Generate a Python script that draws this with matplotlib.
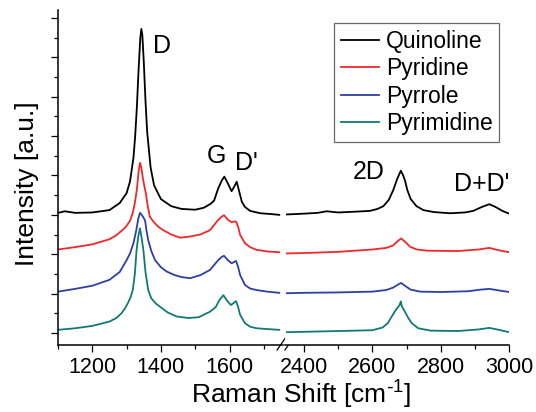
import matplotlib
matplotlib.use("Agg")
import matplotlib.pyplot as plt
from matplotlib.ticker import MultipleLocator

plt.rcParams['font.family'] = ['Liberation Sans', 'DejaVu Sans']
plt.rcParams['mathtext.default'] = 'regular'

names = ["Quinoline", "Pyridine", "Pyrrole", "Pyrimidine"]
colors = ["black", "#f0282a", "#2e3fa6", "#117a72"]

# low-wavenumber region (D, G, D')
quin_x1 = [1100, 1120, 1150, 1200, 1250, 1280, 1300, 1310, 1320, 1325, 1330, 1335, 1340, 1343,
           1346, 1350, 1355, 1360, 1370, 1380, 1400, 1430, 1460, 1500, 1525, 1545, 1555, 1567,
           1578, 1585, 1595, 1606, 1614, 1621, 1628, 1636, 1645, 1660, 1690, 1720, 1745]
quin_y1 = [3.05, 3.09, 3.05, 3.06, 3.12, 3.30, 3.55, 3.85, 4.45, 5.00, 5.75, 6.70, 7.50, 7.72,
           7.55, 6.90, 5.90, 5.10, 4.20, 3.75, 3.40, 3.22, 3.15, 3.13, 3.18, 3.28, 3.36, 3.67,
           3.88, 3.97, 3.80, 3.60, 3.72, 3.84, 3.60, 3.33, 3.20, 3.10, 3.04, 3.02, 3.00]

pyri_x1 = [1100, 1150, 1200, 1250, 1270, 1290, 1300, 1310, 1318, 1324, 1330, 1335, 1339, 1343,
           1347, 1352, 1356, 1362, 1368, 1378, 1392, 1407, 1430, 1456, 1485, 1515, 1543, 1567,
           1577, 1584, 1595, 1606, 1613, 1619, 1625, 1631, 1645, 1660, 1679, 1710, 1745]
pyri_y1 = [2.12, 2.18, 2.25, 2.38, 2.48, 2.63, 2.72, 2.85, 3.05, 3.30, 3.65, 4.10, 4.32, 4.20,
           3.95, 3.72, 3.55, 3.20, 2.95, 2.83, 2.70, 2.61, 2.50, 2.42, 2.45, 2.50, 2.61, 2.87,
           2.95, 2.99, 2.88, 2.81, 2.83, 2.83, 2.70, 2.49, 2.28, 2.18, 2.11, 2.07, 2.05]

pyrr_x1 = [1100, 1150, 1200, 1250, 1280, 1300, 1310, 1320, 1328, 1334, 1339, 1344, 1350, 1354,
           1358, 1363, 1372, 1383, 1400, 1417, 1440, 1460, 1485, 1515, 1543, 1567, 1577, 1584,
           1595, 1606, 1613, 1619, 1625, 1631, 1645, 1660, 1679, 1710, 1745]
pyrr_y1 = [1.05, 1.12, 1.20, 1.35, 1.55, 1.85, 2.02, 2.28, 2.60, 2.90, 3.05, 3.00, 2.92, 2.85,
           2.60, 2.36, 2.08, 1.85, 1.67, 1.56, 1.47, 1.42, 1.39, 1.47, 1.60, 1.85, 1.93, 1.96,
           1.85, 1.77, 1.80, 1.83, 1.68, 1.47, 1.22, 1.13, 1.09, 1.05, 1.02]

pyrm_x1 = [1100, 1150, 1200, 1250, 1270, 1285, 1295, 1305, 1312, 1318, 1324, 1329, 1334, 1339,
           1344, 1349, 1355, 1363, 1372, 1385, 1397, 1420, 1446, 1480, 1510, 1543, 1560, 1570,
           1582, 1593, 1604, 1612, 1619, 1625, 1631, 1645, 1660, 1679, 1710, 1745]
pyrm_y1 = [0.08, 0.12, 0.18, 0.29, 0.38, 0.50, 0.62, 0.78, 0.92, 1.09, 1.50, 2.10, 2.45, 2.66,
           2.40, 2.10, 1.55, 1.09, 0.88, 0.75, 0.67, 0.52, 0.42, 0.38, 0.40, 0.54, 0.66, 0.83,
           0.96, 0.82, 0.71, 0.76, 0.81, 0.66, 0.46, 0.25, 0.16, 0.12, 0.10, 0.08]

# high-wavenumber region (2D, D+D')
quin_x2 = [2350, 2400, 2440, 2466, 2500, 2550, 2593, 2615, 2632, 2648, 2661, 2672, 2683, 2690,
           2696, 2702, 2712, 2729, 2749, 2780, 2827, 2870, 2895, 2920, 2942, 2960, 2980, 3000]
quin_y2 = [3.01, 3.03, 3.05, 3.09, 3.06, 3.08, 3.10, 3.15, 3.22, 3.38, 3.63, 3.90, 4.12, 4.00,
           3.85, 3.63, 3.40, 3.22, 3.12, 3.07, 3.04, 3.06, 3.10, 3.20, 3.27, 3.20, 3.10, 3.03]

pyri_x2 = [2350, 2400, 2500, 2600, 2640, 2660, 2675, 2684, 2695, 2710, 2730, 2760, 2850, 2910,
           2942, 2970, 3000]
pyri_y2 = [2.02, 2.03, 2.06, 2.12, 2.16, 2.22, 2.34, 2.40, 2.32, 2.19, 2.12, 2.09, 2.08, 2.12,
           2.16, 2.10, 2.05]

pyrr_x2 = [2350, 2400, 2500, 2600, 2640, 2660, 2675, 2684, 2695, 2712, 2740, 2800, 2880, 2915,
           2942, 2970, 3000]
pyrr_y2 = [1.01, 1.02, 1.03, 1.05, 1.09, 1.15, 1.23, 1.27, 1.20, 1.10, 1.05, 1.04, 1.06, 1.10,
           1.12, 1.08, 1.04]

pyrm_x2 = [2350, 2400, 2500, 2600, 2630, 2645, 2656, 2668, 2676, 2680, 2683, 2686, 2695, 2705,
           2715, 2734, 2770, 2850, 2910, 2942, 2970, 3000]
pyrm_y2 = [0.02, 0.03, 0.05, 0.07, 0.14, 0.25, 0.41, 0.58, 0.67, 0.72, 0.80, 0.68, 0.54, 0.38,
           0.25, 0.12, 0.06, 0.05, 0.09, 0.13, 0.08, 0.02]

low = [(quin_x1, quin_y1), (pyri_x1, pyri_y1), (pyrr_x1, pyrr_y1), (pyrm_x1, pyrm_y1)]
high = [(quin_x2, quin_y2), (pyri_x2, pyri_y2), (pyrr_x2, pyrr_y2), (pyrm_x2, pyrm_y2)]

peak_labels = ["D", "G", "D'", "2D", "D+D'"]
peak_pos = [(1404, 7.28), (1563, 4.49), (1648, 4.32), (2588, 4.09), (2921, 3.78)]

fig = plt.figure(figsize=(5.36, 4.12), dpi=100)
ax1 = fig.add_axes([0.1082, 0.1626, 0.4192, 0.8131])
ax2 = fig.add_axes([0.5321, 0.1626, 0.4179, 0.8131])

for (x, y), c, n in zip(low, colors, names):
    ax1.plot(x, y, color=c, lw=1.3, label=n)
for (x, y), c in zip(high, colors):
    ax2.plot(x, y, color=c, lw=1.3)

ax1.set_xlim(1100, 1755)
ax2.set_xlim(2345, 3000)
for ax in (ax1, ax2):
    ax.set_ylim(-0.305, 8.2)
    ax.spines['top'].set_visible(False)
    ax.spines['right'].set_visible(False)
    ax.spines['bottom'].set_linewidth(1.1)
    ax.spines['left'].set_linewidth(1.1)
    ax.xaxis.set_major_locator(MultipleLocator(200))
    ax.xaxis.set_minor_locator(MultipleLocator(100))
    ax.tick_params(which='major', direction='out', length=5, width=0.9, labelsize=15.5)
    ax.tick_params(which='minor', direction='out', length=3.2, width=0.9)

ax1.yaxis.set_major_locator(MultipleLocator(1))
ax1.yaxis.set_minor_locator(MultipleLocator(0.5))
ax1.tick_params(axis='y', which='both', labelleft=False)
ax2.spines['left'].set_visible(False)
ax2.tick_params(axis='y', which='both', left=False, labelleft=False)

for txt, (px, py) in zip(peak_labels, peak_pos):
    ax = ax1 if px < 2000 else ax2
    ax.text(px, py, txt, fontsize=18, ha='center', va='center')

# break marks on the x axis
d = 0.018
kw = dict(transform=ax1.transAxes, color='black', lw=0.9, clip_on=False)
ax1.plot([0.975, 0.975 + 2 * d], [-0.015, 0.02], **kw)
ax1.plot([1.01, 1.01 + 2 * d], [-0.015, 0.02], **kw)

fig.text(0.562, 0.042, r'Raman Shift [cm$^{\text{-}1}$]', fontsize=19, ha='center', va='center')
fig.text(0.05, 0.553, 'Intensity [a.u.]', fontsize=19, ha='center', va='center', rotation=90)

handles, labels = ax1.get_legend_handles_labels()
leg = fig.legend(handles, labels, loc='upper left', bbox_to_anchor=(0.6237, 0.9449),
                 fontsize=16.5, frameon=True, fancybox=False, borderpad=0.3,
                 labelspacing=0.2, handlelength=1.65, handletextpad=0.3, borderaxespad=0)
leg.get_frame().set_edgecolor('#444444')
leg.get_frame().set_linewidth(0.9)
for line in leg.get_lines():
    line.set_linewidth(1.3)

fig.savefig("out.png", dpi=100)
